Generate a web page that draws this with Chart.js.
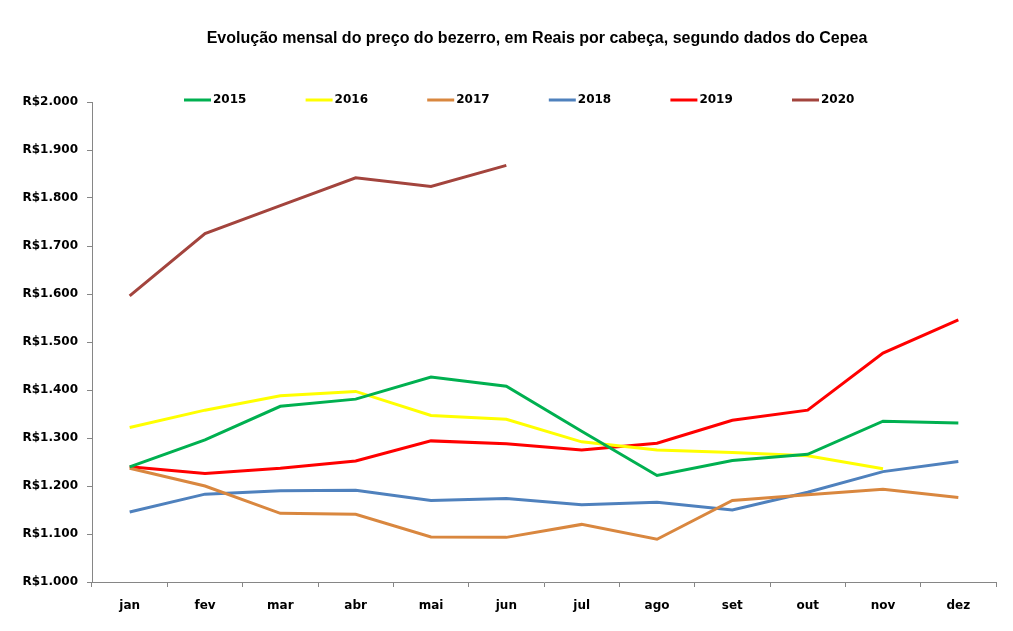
<!DOCTYPE html>
<html>
<head>
<meta charset="utf-8">
<script src="https://cdn.jsdelivr.net/npm/chart.js@4"></script>
<style>
  html,body{margin:0;padding:0;background:#fff;}
  .wrap{position:relative;width:1013px;height:631px;}
</style>
</head>
<body>
<div class="wrap"><canvas id="chart"></canvas></div>
<script>
/* dados: preço do bezerro (R$/cabeça), Cepea */
const meses = ['jan','fev','mar','abr','mai','jun','jul','ago','set','out','nov','dez'];
const anos = ['2015','2016','2017','2018','2019','2020'];
const cores = ['#00B050','#FFFF00','#D9873F','#4F81BD','#FF0000','#A3443D'];

const v2015 = [1240,1296,1366,1381,1427,1408,1314,1222,1253,1266,1335,1331];
const v2016 = [1322,1358,1388,1397,1347,1339,1292,1275,1270,1263,1236,null];
const v2017 = [1237,1200,1143,1141,1094,1093,1120,1089,1170,1182,1193,1176];
const v2018 = [1146,1183,1190,1191,1170,1174,1161,1166,1150,1187,1230,1251];
const v2019 = [1240,1226,1237,1252,1294,1288,1275,1289,1337,1358,1477,1546];
const v2020 = [1596,1726,1784,1842,1824,1868,null,null,null,null,null,null];

const serie = [v2015,v2016,v2017,v2018,v2019,v2020];
const yTicks = [1000,1100,1200,1300,1400,1500,1600,1700,1800,1900,2000];

const titulo = 'Evolução mensal do preço do bezerro, em Reais por cabeça, segundo dados do Cepea';
const fmt = n => 'R$' + n.toLocaleString('pt-BR');

// título e legenda desenhados à mão (legenda fica dentro da área do gráfico)
const topo = {
  id:'topo',
  afterDraw(chart){
    const c = chart.ctx;
    c.save();
    c.fillStyle = '#000';
    c.font = 'bold 16px "Liberation Sans Narrow", "Liberation Sans", sans-serif';
    c.textAlign = 'center';
    c.textBaseline = 'middle';
    c.fillText(titulo, 537, 39);

    c.font = 'bold 12px "DejaVu Sans", sans-serif';
    c.textAlign = 'left';
    chart.data.datasets.forEach((ds,i)=>{
      const x = 184 + i*121.6;
      c.strokeStyle = ds.borderColor;
      c.lineWidth = 3;
      c.beginPath(); c.moveTo(x,100); c.lineTo(x+27,100); c.stroke();
      c.fillText(ds.label, x+29, 100);
    });
    c.restore();
  }
};

new Chart(document.getElementById('chart'), {
  type:'line',
  data:{
    labels: meses,
    datasets: anos.map((a,i)=>({
      label:a, data:serie[i], borderColor:cores[i], backgroundColor:cores[i],
      borderWidth:3, pointRadius:0, tension:0, spanGaps:false
    }))
  },
  options:{
    responsive:true, maintainAspectRatio:false, animation:false,
    layout:{ padding:{ top:102, right:17, left:0, bottom:0 } },
    plugins:{ legend:{ display:false }, title:{ display:false }, tooltip:{ enabled:false } },
    scales:{
      x:{
        offset:true,
        grid:{ offset:true, drawOnChartArea:false, drawTicks:true, tickLength:5, color:'#868686' },
        border:{ color:'#868686', width:1 },
        ticks:{ color:'#000', font:{ family:'"DejaVu Sans", sans-serif', size:12, weight:'bold' }, padding:12, maxRotation:0 },
        afterFit(s){ s.height = 49; }
      },
      y:{
        min:1000, max:2000,
        afterBuildTicks(s){ s.ticks = yTicks.map(v=>({value:v})); },
        grid:{ drawOnChartArea:false, drawTicks:true, tickLength:5, color:'#868686' },
        border:{ color:'#868686', width:1 },
        ticks:{ color:'#000', font:{ family:'"DejaVu Sans", sans-serif', size:12, weight:'bold' }, padding:9, callback:v=>fmt(v) },
        afterFit(s){ s.width = 92; }
      }
    }
  },
  plugins:[topo]
});
</script>
</body>
</html>
